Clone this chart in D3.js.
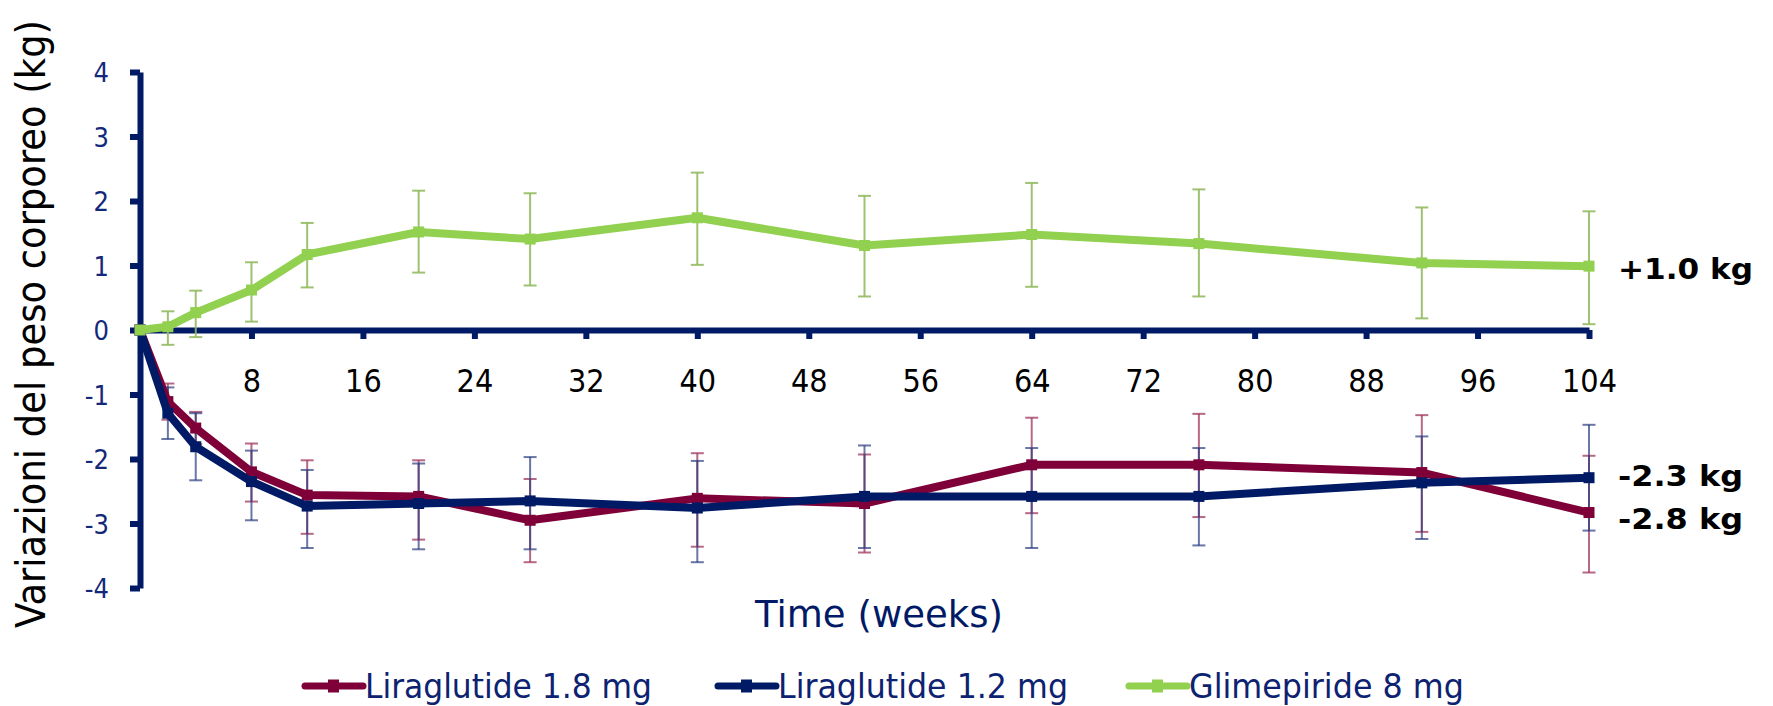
<!DOCTYPE html>
<meta charset="utf-8">
<style>
body { margin: 0; background: #fff; }
svg text { font-family: "DejaVu Sans", Verdana, sans-serif; }
</style>
<body>
<script src="https://d3js.org/d3.v7.min.js"></script>
<script>

// visit weeks
var weeks = [0, 2, 4, 8, 12, 20, 28, 40, 52, 64, 76, 92, 104];

// Liraglutide 1.8 mg (mean, upper and lower end of the error bar)
var lira18   = [0, -1.11, -1.52, -2.20, -2.56, -2.58, -2.95, -2.61, -2.69, -2.09, -2.09, -2.21, -2.83];
var lira18Hi = [0, -0.83, -1.27, -1.76, -2.02, -2.02, -2.31, -1.91, -1.93, -1.36, -1.30, -1.32, -1.95];
var lira18Lo = [0, -1.39, -1.77, -2.66, -3.16, -3.25, -3.60, -3.36, -3.45, -2.84, -2.90, -3.13, -3.76];

// Liraglutide 1.2 mg
var lira12   = [0, -1.29, -1.81, -2.35, -2.73, -2.69, -2.65, -2.76, -2.58, -2.58, -2.58, -2.37, -2.29];
var lira12Hi = [0, -0.89, -1.29, -1.87, -2.17, -2.07, -1.97, -2.03, -1.79, -1.83, -1.83, -1.65, -1.47];
var lira12Lo = [0, -1.69, -2.33, -2.95, -3.38, -3.40, -3.40, -3.60, -3.38, -3.38, -3.34, -3.24, -3.11];

// Glimepiride 8 mg
var glim   = [0, 0.05, 0.27, 0.62, 1.17, 1.52, 1.41, 1.74, 1.31, 1.48, 1.34, 1.04, 0.99];
var glimHi = [0, 0.29, 0.61, 1.05, 1.66, 2.16, 2.12, 2.44, 2.08, 2.28, 2.18, 1.90, 1.84];
var glimLo = [0, -0.23, -0.11, 0.13, 0.66, 0.89, 0.69, 1.01, 0.52, 0.67, 0.52, 0.18, 0.09];

var seriesNames = ["Liraglutide 1.8 mg", "Liraglutide 1.2 mg", "Glimepiride 8 mg"];
var endLabels = ["-2.8 kg", "-2.3 kg", "+1.0 kg"];

var xTicks = [8, 16, 24, 32, 40, 48, 56, 64, 72, 80, 88, 96, 104];
var yTicks = [-4, -3, -2, -1, 0, 1, 2, 3, 4];

var navy = "#001a66", maroon = "#7f0038", green = "#92d050";

var series = [
  {name: seriesNames[0], mean: lira18, hi: lira18Hi, lo: lira18Lo, color: maroon, bar: "#a0365f", barOp: 0.75, label: endLabels[0], nudge: 6},
  {name: seriesNames[1], mean: lira12, hi: lira12Hi, lo: lira12Lo, color: navy, bar: "#2a3c80", barOp: 0.7, label: endLabels[1], nudge: -2},
  {name: seriesNames[2], mean: glim, hi: glimHi, lo: glimLo, color: green, bar: "#93bb62", barOp: 0.9, label: endLabels[2], nudge: 2}
];

var W = 1773, H = 706;

var svg = d3.select("body").append("svg")
    .attr("width", W)
    .attr("height", H);

// scales
var x = d3.scaleLinear().domain([0, 104]).range([140, 1589]);
var y = d3.scaleLinear().domain([-4, 4]).range([588, 72]);

// plain hyphen for negatives, like the original
var plain = function(d) { return String(d); };

// y axis
var yAxis = svg.append("g")
    .attr("transform", "translate(" + x(0) + ",0)")
    .call(d3.axisLeft(y).tickValues(yTicks).tickFormat(plain)
      .tickSize(10).tickSizeOuter(0).tickPadding(21));
yAxis.select(".domain").attr("stroke", navy).attr("stroke-width", 6);
yAxis.selectAll(".tick line").attr("stroke", navy).attr("stroke-width", 6);
yAxis.selectAll(".tick text")
    .attr("fill", "#14287a")
    .style("font-size", "27px")
    .attr("dy", "0.36em");

// x axis, through zero
var xAxis = svg.append("g")
    .attr("transform", "translate(0," + y(0) + ")")
    .call(d3.axisBottom(x).tickValues(xTicks).tickFormat(plain)
      .tickSize(9).tickSizeOuter(0).tickPadding(30));
xAxis.select(".domain").attr("stroke", navy).attr("stroke-width", 6);
xAxis.selectAll(".tick line").attr("stroke", navy).attr("stroke-width", 6);
xAxis.selectAll(".tick text")
    .attr("fill", "#000")
    .style("font-size", "32px");

// squeeze tick labels a little (narrow font in original)
svg.selectAll(".tick text").each(function() {
  var w = this.getComputedTextLength();
  d3.select(this).attr("textLength", w * 0.9).attr("lengthAdjust", "spacingAndGlyphs");
});

// error bars
var cap = 6.5;
series.forEach(function(s) {
  var g = svg.append("g");
  weeks.forEach(function(wk, i) {
    if (s.hi[i] === s.lo[i]) return;
    var cx = x(wk);
    g.append("line")
      .attr("x1", cx).attr("x2", cx)
      .attr("y1", y(s.hi[i])).attr("y2", y(s.lo[i]));
    [s.hi[i], s.lo[i]].forEach(function(v) {
      g.append("line")
        .attr("x1", cx - cap).attr("x2", cx + cap)
        .attr("y1", y(v)).attr("y2", y(v));
    });
  });
  g.selectAll("line")
    .attr("stroke", s.bar)
    .attr("stroke-opacity", s.barOp)
    .attr("stroke-width", 2);
});

// lines and markers
var line = d3.line()
    .x(function(d, i) { return x(weeks[i]); })
    .y(function(d) { return y(d); });

series.forEach(function(s) {
  svg.append("path")
    .datum(s.mean)
    .attr("d", line)
    .attr("fill", "none")
    .attr("stroke", s.color)
    .attr("stroke-width", 8)
    .attr("stroke-linejoin", "round");

  svg.append("g").selectAll("rect")
    .data(s.mean)
    .enter().append("rect")
    .attr("x", function(d, i) { return x(weeks[i]) - 5.5; })
    .attr("y", function(d) { return y(d) - 5.5; })
    .attr("width", 11)
    .attr("height", 11)
    .attr("fill", s.color);

  // value at week 104
  var last = s.mean[s.mean.length - 1];
  svg.append("text")
    .attr("x", 1618)
    .attr("y", y(last) + s.nudge)
    .attr("dy", "0.36em")
    .attr("font-weight", "bold")
    .attr("textLength", s.label.charAt(0) === "+" ? 135 : 125)
    .attr("lengthAdjust", "spacingAndGlyphs")
    .style("font-size", "29px")
    .attr("fill", "#000")
    .text(s.label);
});

// y title
svg.append("text")
    .attr("transform", "translate(45,324) rotate(-90)")
    .attr("text-anchor", "middle")
    .attr("textLength", 608)
    .attr("lengthAdjust", "spacingAndGlyphs")
    .style("font-size", "40px")
    .attr("fill", "#000")
    .text("Variazioni del peso corporeo (kg)");

// x title
svg.append("text")
    .attr("x", 879)
    .attr("y", 627)
    .attr("text-anchor", "middle")
    .attr("textLength", 248)
    .attr("lengthAdjust", "spacingAndGlyphs")
    .style("font-size", "38px")
    .attr("fill", navy)
    .text("Time (weeks)");

// legend
var legendX = [305, 718, 1129];
var legendW = [287, 290, 275];
series.forEach(function(s, i) {
  var g = svg.append("g").attr("transform", "translate(" + legendX[i] + ",686)");
  g.append("line")
    .attr("x1", 0).attr("x2", 58)
    .attr("stroke", s.color)
    .attr("stroke-width", 7)
    .attr("stroke-linecap", "round");
  g.append("rect")
    .attr("x", 23).attr("y", -6.5)
    .attr("width", 11).attr("height", 13)
    .attr("fill", s.color);
  g.append("text")
    .attr("x", 60)
    .attr("y", 12)
    .attr("textLength", legendW[i])
    .attr("lengthAdjust", "spacingAndGlyphs")
    .style("font-size", "34px")
    .attr("fill", "#0d2270")
    .text(s.name);
});

</script>
</body>
